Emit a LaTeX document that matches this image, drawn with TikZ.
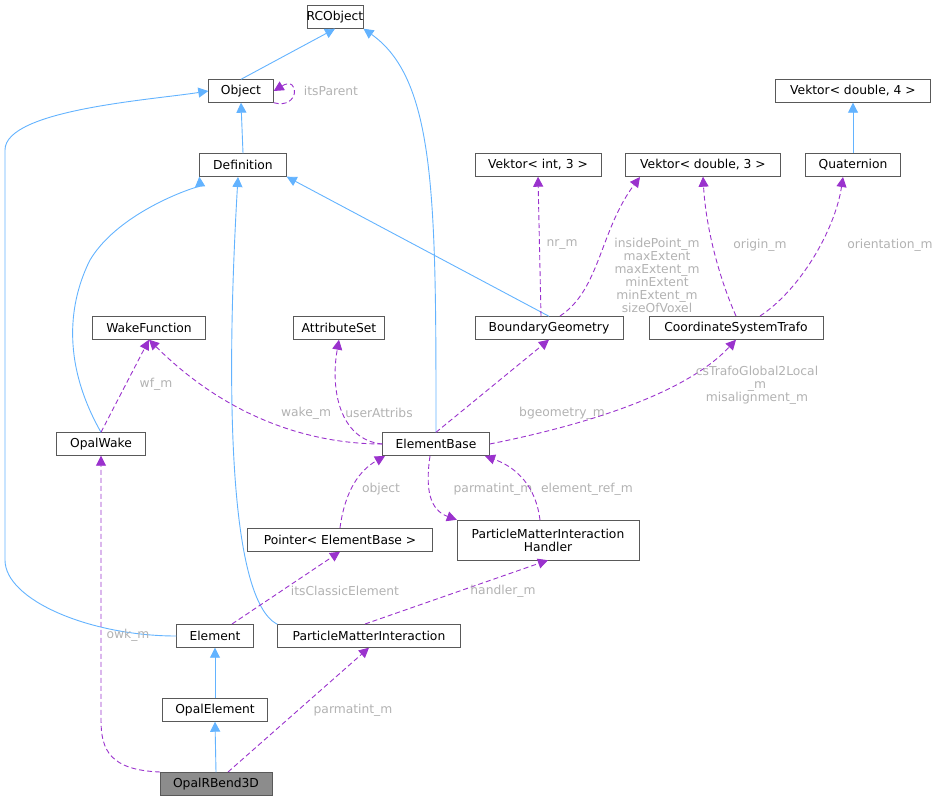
\documentclass[tikz,border=0pt]{standalone}
\usepackage{fontspec}
\setmainfont{DejaVu Sans}
\usetikzlibrary{arrows.meta}
\begin{document}
\begin{tikzpicture}[x=1pt,y=-1pt,
  box/.style={draw=black!65,fill=white,inner sep=0pt,minimum height=23,font=\fontsize{12.3}{13}\selectfont,align=center},
  inh/.style={draw={rgb,255:red,99;green,179;blue,255},line width=0.9pt,-{Triangle[length=10pt,width=10pt,fill={rgb,255:red,99;green,179;blue,255}]}},
  use/.style={draw={rgb,255:red,154;green,50;blue,205},line width=0.9pt,dash pattern=on 5pt off 3pt,-{Triangle[length=10pt,width=10pt,fill={rgb,255:red,154;green,50;blue,205}]}},
  lab/.style={text=black!30,font=\fontsize{12.3}{13}\selectfont,align=center,inner sep=0pt}]
\useasboundingbox (0,0) rectangle (943,804);
\node[box,minimum width=55] (rc) at (335,17) {RCObject};
\node[box,minimum width=65] (obj) at (241,91) {Object};
\node[box,minimum width=87] (def) at (243,165) {Definition};
\node[box,minimum width=155] (v4) at (853,91) {Vektor< double, 4 >};
\node[box,minimum width=126] (vi3) at (538,165) {Vektor< int, 3 >};
\node[box,minimum width=155] (vd3) at (703,165) {Vektor< double, 3 >};
\node[box,minimum width=95] (q) at (853,165) {Quaternion};
\node[box,minimum width=113] (wf) at (149,328) {WakeFunction};
\node[box,minimum width=91] (as) at (339,328) {AttributeSet};
\node[box,minimum width=148] (bg) at (549,328) {BoundaryGeometry};
\node[box,minimum width=174] (cst) at (736,328) {CoordinateSystemTrafo};
\node[box,minimum width=89] (ow) at (101,444) {OpalWake};
\node[box,minimum width=107] (eb) at (436,444) {ElementBase};
\node[box,minimum width=185] (ptr) at (340,540) {Pointer< ElementBase >};
\node[box,minimum width=182,minimum height=40] (pmih) at (548,540) {ParticleMatterInteraction\\Handler};
\node[box,minimum width=77] (el) at (215,636) {Element};
\node[box,minimum width=183] (pmi) at (369,636) {ParticleMatterInteraction};
\node[box,minimum width=105] (oe) at (215,710) {OpalElement};
\node[box,minimum width=112,fill=black!45] (rb) at (216,784) {OpalRBend3D};
% inheritance
\draw[inh] (obj.north) -- (rc.south);
\draw[inh] (eb.north) .. controls (436,200) and (436,80) .. (rc.south east);
\draw[inh] (def.north) -- (obj.south);
\draw[inh] (el.west) .. controls (90,636) and (5,600) .. (5,560) -- (5,150) .. controls (5,110) and (150,100) .. (obj.west);
\draw[inh] (ow.north) .. controls (60,360) and (70,300) .. (90,260) .. controls (120,210) and (200,185) .. (def.south west);
\draw[inh] (pmi.north west) .. controls (230,600) and (225,400) .. (238,177);
\draw[inh] (bg.north) -- (def.south east);
\draw[inh] (q.north) -- (v4.south);
\draw[inh] (oe.north) -- (el.south);
\draw[inh] (rb.north) -- (oe.south);
% usage
\draw[use] (obj.south east) .. controls (300,110) and (300,75) .. (obj.east);
\node[lab] (l1) at (331,91) {itsParent};
\draw[use] (ow.north) -- (wf.south);
\node[lab] (l2) at (156,384) {wf\_m};
\draw[use] (eb.west) .. controls (330,444) and (240,430) .. (wf.south);
\node[lab] (l3) at (306,413) {wake\_m};
\draw[use] (eb.west) .. controls (340,440) and (330,390) .. (as.south);
\node[lab] (l4) at (379,413) {userAttribs};
\draw[use] (eb.north) -- (bg.south);
\node[lab] (l5) at (562,413) {bgeometry\_m};
\draw[use] (eb.east) .. controls (560,430) and (680,400) .. (cst.south);
\node[lab] (l6) at (757,385) {csTrafoGlobal2Local\\\_m\\misalignment\_m};
\draw[use] (541,316) -- (vi3.south);
\node[lab] (l7) at (562,245) {nr\_m};
\draw[use] (560,316) .. controls (600,290) and (600,230) .. (640,177);
\node[lab] (l8) at (657,275) {insidePoint\_m\\maxExtent\\maxExtent\_m\\minExtent\\minExtent\_m\\sizeOfVoxel};
\draw[use] (736,316) .. controls (720,280) and (706,230) .. (vd3.south);
\node[lab] (l9) at (760,245) {origin\_m};
\draw[use] (760,316) .. controls (800,290) and (835,230) .. (843,177);
\node[lab] (l10) at (890,245) {orientation\_m};
\draw[use] (340,528) .. controls (345,490) and (360,470) .. (385,456);
\node[lab] (l11) at (381,489) {object};
\draw[use] (430,456) .. controls (425,490) and (430,510) .. (pmih.north west);
\node[lab] (l12) at (493,489) {parmatint\_m};
\draw[use] (540,520) .. controls (535,480) and (510,465) .. (485,456);
\node[lab] (l13) at (587,489) {element\_ref\_m};
\draw[use] (232,624) -- (ptr.south);
\node[lab] (l14) at (345,591) {itsClassicElement};
\draw[use] (365,624) -- (pmih.south);
\node[lab] (l15) at (503,591) {handler\_m};
\draw[use] (160,772) .. controls (110,770) and (101,750) .. (101,720) -- (ow.south);
\node[lab] (l16) at (128,635) {owk\_m};
\draw[use] (228,772) -- (pmi.south);
\node[lab] (l17) at (353,710) {parmatint\_m};
\end{tikzpicture}
\end{document}
